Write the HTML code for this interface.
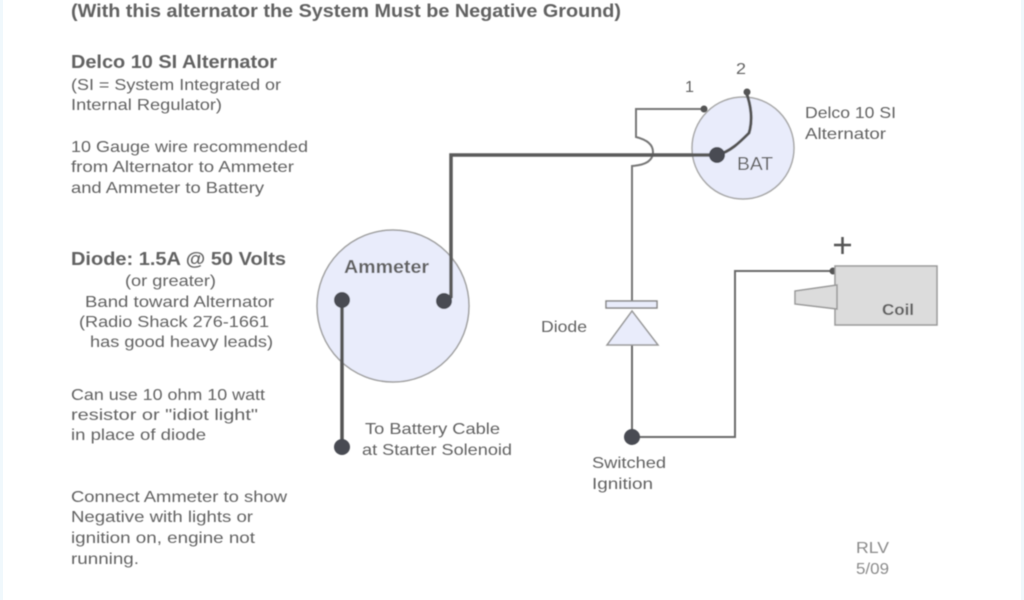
<!DOCTYPE html>
<html><head><meta charset="utf-8"><style>
html,body{margin:0;padding:0;background:#fff;width:1024px;height:600px;overflow:hidden}
svg{display:block}
text{font-family:"Liberation Sans",sans-serif;fill:#626262;font-size:16px}
.b{font-weight:bold}
.t{font-size:18px}
</style></head><body>
<svg width="1024" height="600" viewBox="0 0 1024 600" xmlns="http://www.w3.org/2000/svg">
<defs><filter id="s" x="-5%" y="-5%" width="110%" height="110%"><feGaussianBlur stdDeviation="0.5"/></filter></defs>
<rect width="1024" height="600" fill="#fff"/>
<rect x="0" y="0" width="3" height="600" fill="#f0f8fc"/>
<rect x="1021" y="0" width="3" height="600" fill="#f0f8fc"/>
<g filter="url(#s)">
<text class="b t" x="71" y="17" lengthAdjust="spacingAndGlyphs" textLength="550">(With this alternator the System Must be Negative Ground)</text>
<text class="b t" x="71" y="68" lengthAdjust="spacingAndGlyphs" textLength="206">Delco 10 SI Alternator</text>
<text x="71" y="90" lengthAdjust="spacingAndGlyphs" textLength="210">(SI = System Integrated or</text>
<text x="71" y="110" lengthAdjust="spacingAndGlyphs" textLength="151">Internal Regulator)</text>
<text x="71" y="152" lengthAdjust="spacingAndGlyphs" textLength="237">10 Gauge wire recommended</text>
<text x="71" y="172" lengthAdjust="spacingAndGlyphs" textLength="223">from Alternator to Ammeter</text>
<text x="71" y="193" lengthAdjust="spacingAndGlyphs" textLength="193">and Ammeter to Battery</text>
<text class="b t" x="71" y="265" lengthAdjust="spacingAndGlyphs" textLength="215">Diode: 1.5A @ 50 Volts</text>
<text x="125" y="286" lengthAdjust="spacingAndGlyphs" textLength="91">(or greater)</text>
<text x="85" y="307" lengthAdjust="spacingAndGlyphs" textLength="189">Band toward Alternator</text>
<text x="79" y="327" lengthAdjust="spacingAndGlyphs" textLength="190">(Radio Shack 276-1661</text>
<text x="90" y="347" lengthAdjust="spacingAndGlyphs" textLength="183">has good heavy leads)</text>
<text x="71" y="400" lengthAdjust="spacingAndGlyphs" textLength="194">Can use 10 ohm 10 watt</text>
<text x="71" y="420" lengthAdjust="spacingAndGlyphs" textLength="187">resistor or "idiot light"</text>
<text x="71" y="440" lengthAdjust="spacingAndGlyphs" textLength="135">in place of diode</text>
<text x="71" y="502" lengthAdjust="spacingAndGlyphs" textLength="216">Connect Ammeter to show</text>
<text x="71" y="522" lengthAdjust="spacingAndGlyphs" textLength="182">Negative with lights or</text>
<text x="71" y="543" lengthAdjust="spacingAndGlyphs" textLength="184">ignition on, engine not</text>
<text x="71" y="564" lengthAdjust="spacingAndGlyphs" textLength="68">running.</text>

<circle cx="393" cy="306" r="76" fill="#e9ecfb" stroke="#a0a0a0" stroke-width="1.5"/>
<circle cx="743" cy="148" r="51" fill="#e9ecfb" stroke="#a8a8a8" stroke-width="1.5"/>

<path d="M636 109H704M636 108V137C644 139 653 143 653 152C653 160 647 165 632 166V302" fill="none" stroke="#777" stroke-width="2"/>
<path d="M632 345V437" fill="none" stroke="#6a6a6a" stroke-width="2"/>
<path d="M632 437H735V271H833" fill="none" stroke="#6a6a6a" stroke-width="2"/>

<path d="M717 155H451V297L445 301" fill="none" stroke="#5a5a5a" stroke-width="3.500"/>
<path d="M717 155C730 152 740 142 749 133C753 120 751 105 746 92" fill="none" stroke="#555" stroke-width="3"/>
<path d="M342 300V447" fill="none" stroke="#555" stroke-width="3.500"/>

<circle cx="717" cy="155" r="8" fill="#484c52"/>
<circle cx="704" cy="109" r="3.500" fill="#555"/>
<circle cx="747" cy="92" r="3.500" fill="#555"/>
<circle cx="342" cy="300" r="8" fill="#484c52"/>
<circle cx="444" cy="301" r="8" fill="#484c52"/>
<circle cx="342" cy="447" r="8" fill="#484c52"/>
<circle cx="632" cy="437" r="8" fill="#484c52"/>
<circle cx="833" cy="271" r="3.500" fill="#555"/>

<rect x="606" y="301" width="51" height="7" fill="#e9ecfb" stroke="#888" stroke-width="1.500"/>
<path d="M632 311L658 345H607Z" fill="#e9ecfb" stroke="#999" stroke-width="1.500"/>

<rect x="835" y="266" width="102" height="59" fill="#dcdcdc" stroke="#999" stroke-width="1.500"/>
<path d="M837 285L795 291V304L837 309Z" fill="#dcdcdc" stroke="#999" stroke-width="1.500"/>

<path d="M834 245H851M842.500 237V254" stroke="#555" stroke-width="2.500" fill="none"/>

<text x="685" y="92" lengthAdjust="spacingAndGlyphs" textLength="9">1</text>
<text x="736" y="74" lengthAdjust="spacingAndGlyphs" textLength="10">2</text>
<text x="805" y="118" lengthAdjust="spacingAndGlyphs" textLength="91">Delco 10 SI</text>
<text x="805" y="139" lengthAdjust="spacingAndGlyphs" textLength="81">Alternator</text>
<text class="t" x="737" y="170" lengthAdjust="spacingAndGlyphs" textLength="36">BAT</text>
<text class="b t" x="344" y="273" lengthAdjust="spacingAndGlyphs" textLength="85">Ammeter</text>
<text x="365" y="434" lengthAdjust="spacingAndGlyphs" textLength="135">To Battery Cable</text>
<text x="362" y="455" lengthAdjust="spacingAndGlyphs" textLength="150">at Starter Solenoid</text>
<text x="541" y="332" lengthAdjust="spacingAndGlyphs" textLength="46">Diode</text>
<text x="592" y="468" lengthAdjust="spacingAndGlyphs" textLength="74">Switched</text>
<text x="592" y="489" lengthAdjust="spacingAndGlyphs" textLength="61">Ignition</text>
<text class="b" x="882" y="315" lengthAdjust="spacingAndGlyphs" textLength="32">Coil</text>
<text x="856" y="553" style="fill:#8a8a8a" lengthAdjust="spacingAndGlyphs" textLength="33">RLV</text>
<text x="856" y="574" style="fill:#8a8a8a" lengthAdjust="spacingAndGlyphs" textLength="33">5/09</text>
</g>
</svg>
</body></html>
